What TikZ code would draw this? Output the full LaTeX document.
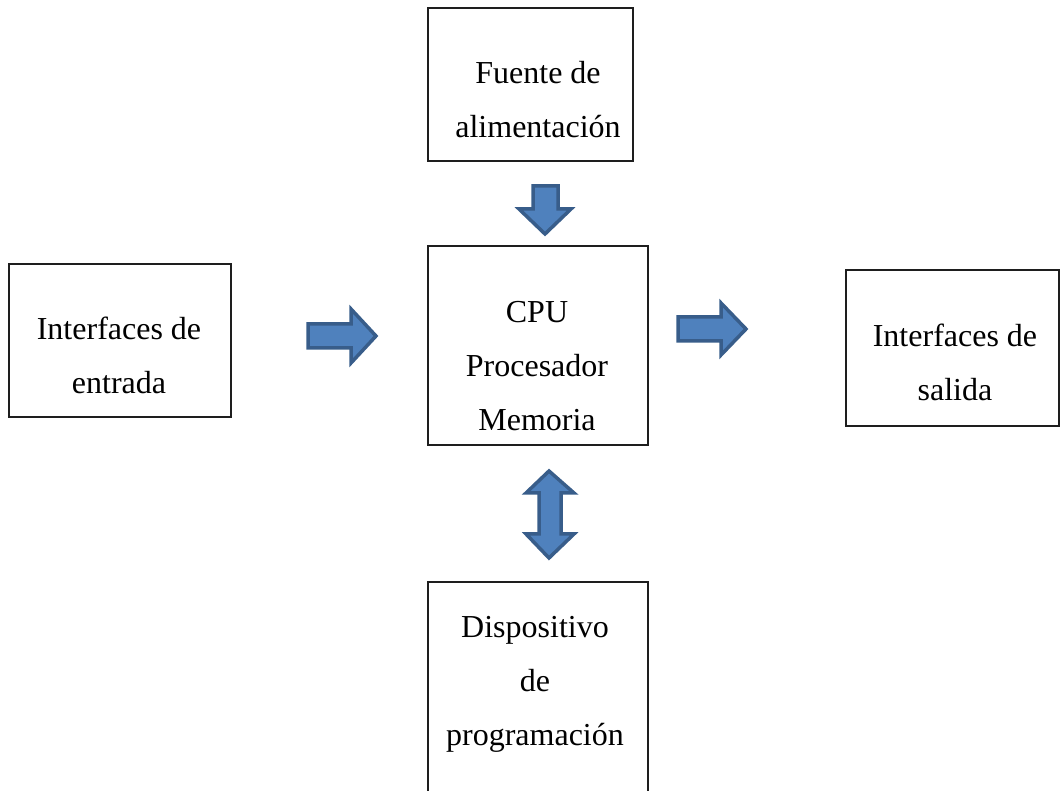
\documentclass[tikz,border=0pt]{standalone}
\usepackage{fontspec}
\setmainfont{Liberation Serif}
\definecolor{afill}{HTML}{4F81BD}
\definecolor{aline}{HTML}{385D8A}
\definecolor{bline}{HTML}{1E1E1E}
\tikzset{
  boxrect/.style={draw=bline, line width=1.3pt},
  lbl/.style={align=center, inner sep=0pt, font=\fontsize{32}{54}\selectfont},
  barrow/.style={fill=afill, draw=aline, line width=3.5pt, line join=miter},
}
\begin{document}
\begin{tikzpicture}[x=1pt,y=-1pt]
\useasboundingbox (0,0) rectangle (1061,791);
\clip (0,0) rectangle (1061,791);
% boxes
\draw[boxrect] (428,8) rectangle (633,161);
\draw[boxrect] (9,264) rectangle (231,417);
\draw[boxrect] (428,246) rectangle (648,445);
\draw[boxrect] (846,270) rectangle (1059,426);
\draw[boxrect] (428,582) rectangle (648,820);
% labels
\node[lbl] (fuente) at (538,100) {Fuente de\\alimentación};
\node[lbl] (entrada) at (119,355) {Interfaces de\\entrada};
\node[lbl] (cpu) at (537,366) {CPU\\Procesador\\Memoria};
\node[lbl] (salida) at (955,362) {Interfaces de\\salida};
\node[lbl] (prog) at (535,684) {Dispositivo\\de\\programación};
% block arrows
\draw[barrow] (533,186) -- (558,186) -- (558,209) -- (571,209) -- (545,234) -- (519,209) -- (533,209) -- cycle;
\draw[barrow] (308,324) -- (351,324) -- (351,309) -- (376,336) -- (351,363) -- (351,348) -- (308,348) -- cycle;
\draw[barrow] (678,317) -- (721,317) -- (721,303) -- (746,329) -- (721,355) -- (721,341) -- (678,341) -- cycle;
\draw[barrow] (549,471) -- (574,493) -- (561,493) -- (561,534) -- (574,534) -- (549,558) -- (526,534) -- (539,534) -- (539,493) -- (526,493) -- cycle;
\end{tikzpicture}
\end{document}
